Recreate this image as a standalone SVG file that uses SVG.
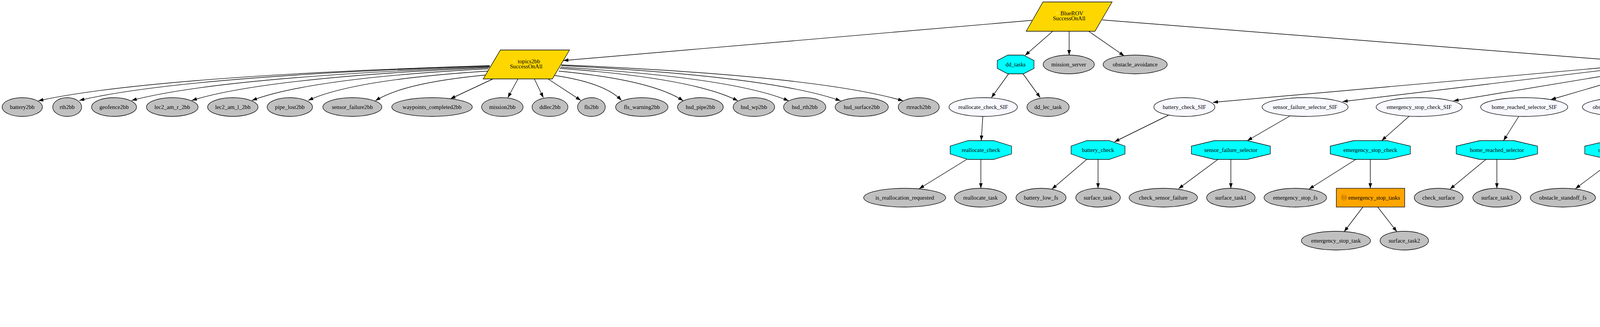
<svg xmlns="http://www.w3.org/2000/svg" width="6659" height="837" viewBox="0 0 6659 837">
<defs>
<style>
.t{font-family:"Liberation Serif","DejaVu Sans",serif;font-size:14.7px;text-anchor:middle;fill:#000}
.bolt{fill:#FFE866}
.m{fill:#9A5B00}
.g{fill:#C0C0C0;stroke:#000;stroke-width:1.3}
.w{fill:#F8F8FF;stroke:#000;stroke-width:1.3}
.o{fill:#00FFFF;stroke:#000;stroke-width:1.3}
.y{fill:#FFD700;stroke:#000;stroke-width:1.3}
.b{fill:#FFA500;stroke:#000;stroke-width:1.3}
.e{fill:none;stroke:#000;stroke-width:1.4;marker-end:url(#ah)}
</style>
<marker id="ah" viewBox="0 0 10 7" refX="10" refY="3.5" markerWidth="13" markerHeight="9.1" markerUnits="userSpaceOnUse" orient="auto"><path d="M0,0L10,3.5L0,7z" fill="#000"/></marker>
</defs>
<rect width="6659" height="837" fill="#fff"/>
<g id="edges">
<path class="e" d="M2642,52 L1442,155"/>
<path class="e" d="M2695,80 L2624,142"/>
<path class="e" d="M2737,80 L2737,141"/>
<path class="e" d="M2787,80 L2878,143"/>
<path class="e" d="M2822,51 L4219,161"/>
<path class="e" d="M1254,168 Q387,195 98,258"/>
<path class="e" d="M1254,169 Q466,195 203,257"/>
<path class="e" d="M1254,171 Q566,197 337,257"/>
<path class="e" d="M1252,173 Q681,198 491,257"/>
<path class="e" d="M1250,176 Q796,200 645,257"/>
<path class="e" d="M1248,182 Q904,204 789,257"/>
<path class="e" d="M1244,192 Q1032,212 961,258"/>
<path class="e" d="M1262,202 L1153,253"/>
<path class="e" d="M1326,202 L1300,250"/>
<path class="e" d="M1368,202 L1391,250"/>
<path class="e" d="M1403,202 L1487,257"/>
<path class="e" d="M1419,193 Q1548,212 1591,257"/>
<path class="e" d="M1430,182 Q1669,205 1749,258"/>
<path class="e" d="M1433,175 Q1775,200 1889,258"/>
<path class="e" d="M1435,172 Q1873,198 2019,258"/>
<path class="e" d="M1437,168 Q1973,195 2152,258"/>
<path class="e" d="M1437,166 Q2093,194 2312,258"/>
<path class="e" d="M2582,189 L2538,250"/>
<path class="e" d="M2619,189 L2663,250"/>
<path class="e" d="M2516,298 L2512,360"/>
<path class="e" d="M2475,408 L2353,483"/>
<path class="e" d="M2511,408 L2511,482"/>
<path class="e" d="M4219,163 L3105,262"/>
<path class="e" d="M2991,295 L2853,363"/>
<path class="e" d="M2782,408 L2693,484"/>
<path class="e" d="M2811,408 L2811,482"/>
<path class="e" d="M4219,166 L3437,260"/>
<path class="e" d="M3302,297 L3193,360"/>
<path class="e" d="M3118,408 L3017,483"/>
<path class="e" d="M3151,408 L3151,482"/>
<path class="e" d="M4222,175 L3721,258"/>
<path class="e" d="M3608,297 L3537,360"/>
<path class="e" d="M3471,408 L3351,484"/>
<path class="e" d="M3508,408 L3508,482"/>
<path class="e" d="M3489,530 L3441,593"/>
<path class="e" d="M3527,530 L3576,593"/>
<path class="e" d="M4226,180 L3970,255"/>
<path class="e" d="M3888,298 L3849,360"/>
<path class="e" d="M3804,408 L3712,484"/>
<path class="e" d="M3832,408 L3832,482"/>
<path class="e" d="M4246,189 L4191,250"/>
<path class="e" d="M4164,298 L4164,360"/>
<path class="e" d="M4133,408 L4033,483"/>
<path class="e" d="M4166,408 L4169,482"/>
<path class="e" d="M4291,189 L4352,251"/>
<path class="e" d="M4373,298 L4373,360"/>
<path class="e" d="M4360,408 L4319,483"/>
<path class="e" d="M4396,408 L4450,468"/>
<path class="e" d="M4469,544 L4445,593"/>
<path class="e" d="M4506,544 L4530,593"/>
<path class="e" d="M4310,180 L4558,256"/>
<path class="e" d="M4636,298 L4675,360"/>
<path class="e" d="M4690,408 L4690,482"/>
<path class="e" d="M4728,408 L4830,469"/>
<path class="e" d="M4859,544 L4815,593"/>
<path class="e" d="M4899,544 L4909,592"/>
<path class="e" d="M4317,175 L4863,262"/>
<path class="e" d="M4965,297 L5036,360"/>
<path class="e" d="M5069,408 L5089,482"/>
<path class="e" d="M5098,408 L5215,486"/>
<path class="e" d="M4317,170 L5349,277"/>
<path class="e" d="M5398,298 L5330,361"/>
<path class="e" d="M5455,298 L5512,346"/>
<path class="e" d="M5505,296 L5720,360"/>
<path class="e" d="M5507,421 L5418,484"/>
<path class="e" d="M5559,421 L5559,482"/>
<path class="e" d="M5624,421 L5728,482"/>
<path class="e" d="M5815,408 L5912,487"/>
<path class="e" d="M5510,528 Q5420,560 5198,599"/>
<path class="e" d="M5517,530 L5401,591"/>
<path class="e" d="M5559,530 L5559,592"/>
<path class="e" d="M5771,530 L5771,592"/>
<path class="e" d="M5820,528 L5980,593"/>
<path class="e" d="M5826,526 Q6000,565 6205,597"/>
<path class="e" d="M5113,640 L5113,688"/>
<path class="e" d="M5356,640 L5356,688"/>
<path class="e" d="M5771,640 L5771,688"/>
<path class="e" d="M6033,640 L6033,688"/>
<path class="e" d="M5070,736 L4987,786"/>
<path class="e" d="M5113,736 L5113,784"/>
<path class="e" d="M5336,736 L5300,785"/>
<path class="e" d="M5379,736 L5425,785"/>
<path class="e" d="M5733,736 L5657,786"/>
<path class="e" d="M5785,736 L5810,784"/>
<path class="e" d="M6033,736 L6033,784"/>
<path class="e" d="M6084,736 L6160,790"/>
<path class="e" d="M4317,168 L5789,268"/>
<path class="e" d="M5892,298 L5965,361"/>
<path class="e" d="M5937,295 Q6180,330 6378,361"/>
<path class="e" d="M6400,408 L6355,483"/>
<path class="e" d="M6445,408 L6515,485"/>
<path class="e" d="M6360,530 L6430,593"/>
<path class="e" d="M6426,640 L6380,690"/>
<path class="e" d="M6475,640 L6525,688"/>
<path class="e" d="M6545,736 L6505,785"/>
<path class="e" d="M6585,736 L6595,785"/>
<path class="e" d="M4317,166 Q5500,190 5972,257"/>
</g>
<g id="n-BlueROV"><polygon class="y" points="2670,5 2847,5 2803,80 2627,80"/><text class="t" x="2737" y="39"><tspan class="bolt">⚡</tspan> BlueROV</text><text class="t" x="2737" y="52">SuccessOnAll</text></g>
<g id="n-topics2bb"><polygon class="y" points="1281,128 1458,128 1414,202 1237,202"/><text class="t" x="1347" y="161.5"><tspan class="bolt">⚡</tspan> topics2bb</text><text class="t" x="1347" y="174.5">SuccessOnAll</text></g>
<g id="n-dd_tasks"><polygon class="o" points="2580,141 2620,141 2647,155 2647,175 2620,189 2580,189 2553,175 2553,155"/><text class="t" x="2600" y="169.5">dd_tasks</text></g>
<g id="n-mission_server"><ellipse class="g" cx="2736" cy="165" rx="65.5" ry="24"/><text class="t" x="2736" y="169.5">mission_server</text></g>
<g id="n-obstacle_avoidance"><ellipse class="g" cx="2906" cy="165" rx="82" ry="24"/><text class="t" x="2906" y="169.5">obstacle_avoidance</text></g>
<g id="n-priorities"><polygon class="o" points="4247,141 4289,141 4317,155 4317,175 4289,189 4247,189 4219,175 4219,155"/><text class="t" x="4268" y="169.5">priorities</text></g>
<g id="n-battery2bb"><ellipse class="g" cx="57" cy="274" rx="51.5" ry="24"/><text class="t" x="57" y="278.5">battery2bb</text></g>
<g id="n-rth2bb"><ellipse class="g" cx="172" cy="274" rx="37" ry="24"/><text class="t" x="172" y="278.5">rth2bb</text></g>
<g id="n-geofence2bb"><ellipse class="g" cx="292" cy="274" rx="57.5" ry="24"/><text class="t" x="292" y="278.5">geofence2bb</text></g>
<g id="n-lec2_am_r_2bb"><ellipse class="g" cx="441" cy="274" rx="66" ry="24"/><text class="t" x="441" y="278.5">lec2_am_r_2bb</text></g>
<g id="n-lec2_am_l_2bb"><ellipse class="g" cx="596" cy="274" rx="64.5" ry="24"/><text class="t" x="596" y="278.5">lec2_am_l_2bb</text></g>
<g id="n-pipe_lost2bb"><ellipse class="g" cx="742" cy="274" rx="58" ry="24"/><text class="t" x="742" y="278.5">pipe_lost2bb</text></g>
<g id="n-sensor_failure2bb"><ellipse class="g" cx="902" cy="274" rx="75.5" ry="24"/><text class="t" x="902" y="278.5">sensor_failure2bb</text></g>
<g id="n-waypoints_completed2bb"><ellipse class="g" cx="1106" cy="274" rx="103" ry="24"/><text class="t" x="1106" y="278.5">waypoints_completed2bb</text></g>
<g id="n-mission2bb"><ellipse class="g" cx="1286" cy="274" rx="53" ry="24"/><text class="t" x="1286" y="278.5">mission2bb</text></g>
<g id="n-ddlec2bb"><ellipse class="g" cx="1408" cy="274" rx="46" ry="24"/><text class="t" x="1408" y="278.5">ddlec2bb</text></g>
<g id="n-fls2bb"><ellipse class="g" cx="1514" cy="274" rx="35.5" ry="24"/><text class="t" x="1514" y="278.5">fls2bb</text></g>
<g id="n-fls_warning2bb"><ellipse class="g" cx="1643" cy="274" rx="67" ry="24"/><text class="t" x="1643" y="278.5">fls_warning2bb</text></g>
<g id="n-hsd_pipe2bb"><ellipse class="g" cx="1793" cy="274" rx="58.5" ry="24"/><text class="t" x="1793" y="278.5">hsd_pipe2bb</text></g>
<g id="n-hsd_wp2bb"><ellipse class="g" cx="1930" cy="274" rx="53" ry="24"/><text class="t" x="1930" y="278.5">hsd_wp2bb</text></g>
<g id="n-hsd_rth2bb"><ellipse class="g" cx="2060" cy="274" rx="54" ry="24"/><text class="t" x="2060" y="278.5">hsd_rth2bb</text></g>
<g id="n-hsd_surface2bb"><ellipse class="g" cx="2206" cy="274" rx="68" ry="24"/><text class="t" x="2206" y="278.5">hsd_surface2bb</text></g>
<g id="n-rtreach2bb"><ellipse class="g" cx="2352" cy="274" rx="52.5" ry="24"/><text class="t" x="2352" y="278.5">rtreach2bb</text></g>
<g id="n-reallocate_check_SIF"><ellipse class="w" cx="2517" cy="274" rx="87.5" ry="24"/><text class="t" x="2517" y="278.5">reallocate_check_SIF</text></g>
<g id="n-dd_lec_task"><ellipse class="g" cx="2683" cy="274" rx="54" ry="24"/><text class="t" x="2683" y="278.5">dd_lec_task</text></g>
<g id="n-battery_check_SIF"><ellipse class="w" cx="3032" cy="274" rx="78" ry="24"/><text class="t" x="3032" y="278.5">battery_check_SIF</text></g>
<g id="n-sensor_failure_selector_SIF"><ellipse class="w" cx="3341" cy="274" rx="110" ry="24"/><text class="t" x="3341" y="278.5">sensor_failure_selector_SIF</text></g>
<g id="n-emergency_stop_check_SIF"><ellipse class="w" cx="3633" cy="274" rx="110" ry="24"/><text class="t" x="3633" y="278.5">emergency_stop_check_SIF</text></g>
<g id="n-home_reached_selector_SIF"><ellipse class="w" cx="3902" cy="274" rx="111.5" ry="24"/><text class="t" x="3902" y="278.5">home_reached_selector_SIF</text></g>
<g id="n-obstacle_standoff_check_SIF"><ellipse class="w" cx="4164" cy="274" rx="113" ry="24"/><text class="t" x="4164" y="278.5">obstacle_standoff_check_SIF</text></g>
<g id="n-rth_selector_SIF"><ellipse class="w" cx="4373" cy="274" rx="70" ry="24"/><text class="t" x="4373" y="278.5">rth_selector_SIF</text></g>
<g id="n-geofence_selector_SIF"><ellipse class="w" cx="4622" cy="274" rx="91.5" ry="24"/><text class="t" x="4622" y="278.5">geofence_selector_SIF</text></g>
<g id="n-pipe_lost_selector_SIF"><ellipse class="w" cx="4941" cy="274" rx="91.5" ry="24"/><text class="t" x="4941" y="278.5">pipe_lost_selector_SIF</text></g>
<g id="n-track_pipe_mission"><rect class="b" x="5349" y="250" width="155" height="48"/><text class="t" x="5426.5" y="278.5"><tspan class="m">Ⓜ</tspan> track_pipe_mission</text></g>
<g id="n-waypoint_mission"><rect class="b" x="5789" y="251" width="148" height="47"/><text class="t" x="5863" y="278.5"><tspan class="m">Ⓜ</tspan> waypoint_mission</text></g>
<g id="n-loiter_task"><ellipse class="g" cx="6010" cy="274" rx="50.5" ry="24"/><text class="t" x="6010" y="278.5">loiter_task</text></g>
<g id="n-reallocate_check"><polygon class="o" points="2478,360 2544,360 2589.5,374 2589.5,394 2544,408 2478,408 2432.5,394 2432.5,374"/><text class="t" x="2511" y="388.5">reallocate_check</text></g>
<g id="n-battery_check"><polygon class="o" points="2782,360 2840,360 2880,374 2880,394 2840,408 2782,408 2742,394 2742,374"/><text class="t" x="2811" y="388.5">battery_check</text></g>
<g id="n-sensor_failure_selector"><polygon class="o" points="3108.6,360 3193.4,360 3252,374 3252,394 3193.4,408 3108.6,408 3050,394 3050,374"/><text class="t" x="3151" y="388.5">sensor_failure_selector</text></g>
<g id="n-emergency_stop_check"><polygon class="o" points="3465,360 3551,360 3610.5,374 3610.5,394 3551,408 3465,408 3405.5,394 3405.5,374"/><text class="t" x="3508" y="388.5">emergency_stop_check</text></g>
<g id="n-home_reached_selector"><polygon class="o" points="3788,360 3876,360 3936,374 3936,394 3876,408 3788,408 3728,394 3728,374"/><text class="t" x="3832" y="388.5">home_reached_selector</text></g>
<g id="n-obstacle_standoff_check"><polygon class="o" points="4119,360 4209,360 4271,374 4271,394 4209,408 4119,408 4057,394 4057,374"/><text class="t" x="4164" y="388.5">obstacle_standoff_check</text></g>
<g id="n-rth_selector"><polygon class="o" points="4347.5,360 4398.5,360 4433.5,374 4433.5,394 4398.5,408 4347.5,408 4312.5,394 4312.5,374"/><text class="t" x="4373" y="388.5">rth_selector</text></g>
<g id="n-geofence_selector"><polygon class="o" points="4655.5,360 4724.5,360 4772.5,374 4772.5,394 4724.5,408 4655.5,408 4607.5,394 4607.5,374"/><text class="t" x="4690" y="388.5">geofence_selector</text></g>
<g id="n-pipe_lost_selector"><polygon class="o" points="5026.5,360 5095.5,360 5143.5,374 5143.5,394 5095.5,408 5026.5,408 4978.5,394 4978.5,374"/><text class="t" x="5061" y="388.5">pipe_lost_selector</text></g>
<g id="n-is_track_pipe_mission_requested"><ellipse class="g" cx="5296" cy="384" rx="129" ry="24"/><text class="t" x="5296" y="388.5">is_track_pipe_mission_requested</text></g>
<g id="n-tracking"><polygon class="y" points="5494,346 5670,346 5625,421 5449,421"/><text class="t" x="5559.5" y="380"><tspan class="bolt">⚡</tspan> tracking</text><text class="t" x="5559.5" y="393">SuccessOnAll</text></g>
<g id="n-track_pipe_mission_end"><rect class="b" x="5693" y="360" width="185" height="48"/><text class="t" x="5785.5" y="388.5"><tspan class="m">Ⓜ</tspan> track_pipe_mission_end</text></g>
<g id="n-is_waypoint_requested"><ellipse class="g" cx="5995" cy="384" rx="94" ry="24"/><text class="t" x="5995" y="388.5">is_waypoint_requested</text></g>
<g id="n-waypoint_selector"><polygon class="o" points="6388.5,360 6451.5,360 6495,374 6495,394 6451.5,408 6388.5,408 6345,394 6345,374"/><text class="t" x="6420" y="388.5">waypoint_selector</text></g>
<g id="n-is_reallocation_requested"><ellipse class="g" cx="2316" cy="506" rx="105" ry="24"/><text class="t" x="2316" y="510.5">is_reallocation_requested</text></g>
<g id="n-reallocate_task"><ellipse class="g" cx="2510" cy="506" rx="66.5" ry="24"/><text class="t" x="2510" y="510.5">reallocate_task</text></g>
<g id="n-battery_low_fs"><ellipse class="g" cx="2665" cy="506" rx="64" ry="24"/><text class="t" x="2665" y="510.5">battery_low_fs</text></g>
<g id="n-surface_task"><ellipse class="g" cx="2811" cy="506" rx="57" ry="24"/><text class="t" x="2811" y="510.5">surface_task</text></g>
<g id="n-check_sensor_failure"><ellipse class="g" cx="2978" cy="506" rx="87.5" ry="24"/><text class="t" x="2978" y="510.5">check_sensor_failure</text></g>
<g id="n-surface_task1"><ellipse class="g" cx="3151" cy="506" rx="62" ry="24"/><text class="t" x="3151" y="510.5">surface_task1</text></g>
<g id="n-emergency_stop_fs"><ellipse class="g" cx="3316" cy="506" rx="80" ry="24"/><text class="t" x="3316" y="510.5">emergency_stop_fs</text></g>
<g id="n-emergency_stop_tasks"><rect class="b" x="3421" y="482" width="175" height="48"/><text class="t" x="3508.5" y="510.5"><tspan class="m">Ⓜ</tspan> emergency_stop_tasks</text></g>
<g id="n-check_surface"><ellipse class="g" cx="3683" cy="506" rx="62.5" ry="24"/><text class="t" x="3683" y="510.5">check_surface</text></g>
<g id="n-surface_task3"><ellipse class="g" cx="3832" cy="506" rx="61.5" ry="24"/><text class="t" x="3832" y="510.5">surface_task3</text></g>
<g id="n-obstacle_standoff_fs"><ellipse class="g" cx="4001" cy="506" rx="83.5" ry="24"/><text class="t" x="4001" y="510.5">obstacle_standoff_fs</text></g>
<g id="n-surface_task4"><ellipse class="g" cx="4171" cy="506" rx="62" ry="24"/><text class="t" x="4171" y="510.5">surface_task4</text></g>
<g id="n-check_rth"><ellipse class="g" cx="4305" cy="506" rx="47.5" ry="24"/><text class="t" x="4305" y="510.5">check_rth</text></g>
<g id="n-rth_par"><polygon class="y" points="4422,469 4598,469 4552,544 4376,544"/><text class="t" x="4487" y="503"><tspan class="bolt">⚡</tspan> rth_par</text><text class="t" x="4487" y="516">SuccessOnAll</text></g>
<g id="n-check_geofence"><ellipse class="g" cx="4689" cy="506" rx="68" ry="24"/><text class="t" x="4689" y="510.5">check_geofence</text></g>
<g id="n-rth_par1"><polygon class="y" points="4829,469 5003,469 4958,544 4782,544"/><text class="t" x="4893" y="503"><tspan class="bolt">⚡</tspan> rth_par1</text><text class="t" x="4893" y="516">SuccessOnAll</text></g>
<g id="n-check_pipe_post"><ellipse class="g" cx="5097" cy="506" rx="71" ry="24"/><text class="t" x="5097" y="510.5">check_pipe_post</text></g>
<g id="n-loiter_task1"><ellipse class="g" cx="5247" cy="506" rx="54" ry="24"/><text class="t" x="5247" y="510.5">loiter_task1</text></g>
<g id="n-tracking_task"><ellipse class="g" cx="5387" cy="506" rx="61" ry="24"/><text class="t" x="5387" y="510.5">tracking_task</text></g>
<g id="n-lec2am_speed_cmd"><polygon class="o" points="5522.25,482 5595.75,482 5646.5,496 5646.5,516 5595.75,530 5522.25,530 5471.5,516 5471.5,496"/><text class="t" x="5559" y="510.5">lec2am_speed_cmd</text></g>
<g id="n-lec2am_mapping_cmd"><polygon class="o" points="5729.4,482 5812.6,482 5870,496 5870,516 5812.6,530 5729.4,530 5672,516 5672,496"/><text class="t" x="5771" y="510.5">lec2am_mapping_cmd</text></g>
<g id="n-evaluate"><ellipse class="g" cx="5937" cy="506" rx="42.5" ry="24"/><text class="t" x="5937" y="510.5">evaluate</text></g>
<g id="n-waypoints_at_SIF"><ellipse class="w" cx="6330" cy="506" rx="82.5" ry="24"/><text class="t" x="6330" y="510.5">waypoints_at_SIF</text></g>
<g id="n-waypoint_task"><ellipse class="g" cx="6540" cy="506" rx="57.5" ry="24"/><text class="t" x="6540" y="510.5">waypoint_task</text></g>
<g id="n-emergency_stop_task"><ellipse class="g" cx="3420" cy="616" rx="88.5" ry="24"/><text class="t" x="3420" y="620.5">emergency_stop_task</text></g>
<g id="n-surface_task2"><ellipse class="g" cx="3595" cy="616" rx="62" ry="24"/><text class="t" x="3595" y="620.5">surface_task2</text></g>
<g id="n-rth_task"><ellipse class="g" cx="4432" cy="616" rx="41" ry="24"/><text class="t" x="4432" y="620.5">rth_task</text></g>
<g id="n-home2bb"><ellipse class="g" cx="4539" cy="616" rx="41.5" ry="24"/><text class="t" x="4539" y="620.5">home2bb</text></g>
<g id="n-rth_task1"><ellipse class="g" cx="4793" cy="616" rx="46" ry="24"/><text class="t" x="4793" y="620.5">rth_task1</text></g>
<g id="n-home2bb1"><ellipse class="g" cx="4913" cy="616" rx="49.5" ry="24"/><text class="t" x="4913" y="620.5">home2bb1</text></g>
<g id="n-lec2am_l_speed_check_SIF"><ellipse class="w" cx="5113" cy="616" rx="107.5" ry="24"/><text class="t" x="5113" y="620.5">lec2am_l_speed_check_SIF</text></g>
<g id="n-lec2am_r_speed_check_SIF"><ellipse class="w" cx="5356" cy="616" rx="109" ry="24"/><text class="t" x="5356" y="620.5">lec2am_r_speed_check_SIF</text></g>
<g id="n-speed_max_task"><ellipse class="g" cx="5559" cy="616" rx="69" ry="24"/><text class="t" x="5559" y="620.5">speed_max_task</text></g>
<g id="n-lec2am_l_mapping_check_SIF"><ellipse class="w" cx="5771" cy="616" rx="118.5" ry="24"/><text class="t" x="5771" y="620.5">lec2am_l_mapping_check_SIF</text></g>
<g id="n-lec2am_r_mapping_check_SIF"><ellipse class="w" cx="6033" cy="616" rx="120" ry="24"/><text class="t" x="6033" y="620.5">lec2am_r_mapping_check_SIF</text></g>
<g id="n-pipe_mapping_enable_task"><ellipse class="g" cx="6275" cy="616" rx="110" ry="24"/><text class="t" x="6275" y="620.5">pipe_mapping_enable_task</text></g>
<g id="n-waypoints_at"><polygon class="o" points="6425.9,592 6474.1,592 6507.5,606 6507.5,626 6474.1,640 6425.9,640 6392.5,626 6392.5,606"/><text class="t" x="6450" y="620.5">waypoints_at</text></g>
<g id="n-lec2am_l_speed_check"><polygon class="o" points="5070.8,688 5155.2,688 5213.5,702 5213.5,722 5155.2,736 5070.8,736 5012.5,722 5012.5,702"/><text class="t" x="5113" y="716.5">lec2am_l_speed_check</text></g>
<g id="n-lec2am_r_speed_check"><polygon class="o" points="5313.2,688 5398.8,688 5458,702 5458,722 5398.8,736 5313.2,736 5254,722 5254,702"/><text class="t" x="5356" y="716.5">lec2am_r_speed_check</text></g>
<g id="n-lec2am_l_mapping_check"><polygon class="o" points="5724,688 5818,688 5883,702 5883,722 5818,736 5724,736 5659,722 5659,702"/><text class="t" x="5771" y="716.5">lec2am_l_mapping_check</text></g>
<g id="n-lec2am_r_mapping_check"><polygon class="o" points="5986,688 6080,688 6145,702 6145,722 6080,736 5986,736 5921,722 5921,702"/><text class="t" x="6033" y="716.5">lec2am_r_mapping_check</text></g>
<g id="n-check_waypoints_completed"><ellipse class="g" cx="6330" cy="712" rx="118" ry="24"/><text class="t" x="6330" y="716.5">check_waypoints_completed</text></g>
<g id="n-waypoint_end"><rect class="b" x="6495" y="688" width="130" height="48"/><text class="t" x="6560" y="716.5"><tspan class="m">Ⓜ</tspan> waypoint_end</text></g>
<g id="n-check_lec2am_ls"><ellipse class="g" cx="4949" cy="808" rx="71.5" ry="24"/><text class="t" x="4949" y="812.5">check_lec2am_ls</text></g>
<g id="n-speed_min_task"><ellipse class="g" cx="5112" cy="808" rx="68" ry="24"/><text class="t" x="5112" y="812.5">speed_min_task</text></g>
<g id="n-check_lec2am_rs"><ellipse class="g" cx="5278" cy="808" rx="73.5" ry="24"/><text class="t" x="5278" y="812.5">check_lec2am_rs</text></g>
<g id="n-speed_min_task1"><ellipse class="g" cx="5448" cy="808" rx="73" ry="24"/><text class="t" x="5448" y="812.5">speed_min_task1</text></g>
<g id="n-check_lec2am_lp"><ellipse class="g" cx="5618" cy="808" rx="72.5" ry="24"/><text class="t" x="5618" y="812.5">check_lec2am_lp</text></g>
<g id="n-pipe_mapping_disable_task"><ellipse class="g" cx="5826" cy="808" rx="110" ry="24"/><text class="t" x="5826" y="812.5">pipe_mapping_disable_task</text></g>
<g id="n-check_lec2am_rp"><ellipse class="g" cx="6023" cy="808" rx="63" ry="24"/><text class="t" x="6023" y="812.5">check_lec2am_rp</text></g>
<g id="n-pipe_mapping_disable_task1"><ellipse class="g" cx="6216" cy="808" rx="117.5" ry="24"/><text class="t" x="6216" y="812.5">pipe_mapping_disable_task1</text></g>
<g id="n-next_mission"><ellipse class="g" cx="6490" cy="808" rx="55" ry="24"/><text class="t" x="6490" y="812.5">next_mission</text></g>
<g id="n-loiter_task2"><ellipse class="g" cx="6600" cy="808" rx="52" ry="24"/><text class="t" x="6600" y="812.5">loiter_task2</text></g>
</svg>
